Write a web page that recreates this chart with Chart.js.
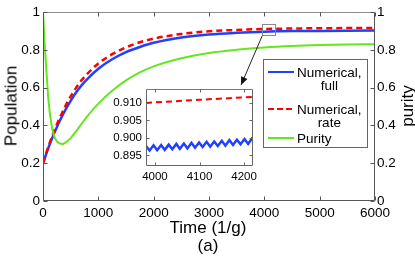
<!DOCTYPE html>
<html><head><meta charset="utf-8">
<script src="https://cdn.jsdelivr.net/npm/chart.js@4.4.1/dist/chart.umd.min.js"></script>
<style>
html,body{margin:0;padding:0;background:#fff;}
#wrap{position:relative;width:415px;height:258px;overflow:hidden;font-family:"Liberation Sans",Arial,sans-serif;color:#000;}
canvas{position:absolute;}
#main{left:0;top:0;}
#inset{left:100px;top:78px;}
.t{position:absolute;white-space:nowrap;line-height:1;font-size:17px;}
.rot{transform:translate(-50%,-50%) rotate(-90deg);}
.ctr{transform:translate(-50%,-50%);}
#legend{position:absolute;left:263px;top:59px;width:103px;height:87px;border:1px solid #666;background:#fff;}
.sw{position:absolute;height:2px;width:26px;left:268px;}
.ent{position:absolute;left:297px;font-size:13.5px;line-height:13px;text-align:center;white-space:nowrap;}
</style></head><body>
<div id="wrap">
<canvas id="main" width="415" height="258"></canvas>
<div id="legend"></div>
<div class="sw" style="top:71px;background:#2040ff"></div>
<div class="ent" style="top:65.5px">Numerical,<br>full</div>
<div class="sw" style="top:108px;background:repeating-linear-gradient(to right,#ff0000 0 6px,transparent 6px 9px)"></div>
<div class="ent" style="top:102.5px">Numerical,<br>rate</div>
<div class="sw" style="top:137px;background:#66e61e"></div>
<div class="ent" style="top:131.5px;text-align:left">Purity</div>
<canvas id="inset" width="162" height="110"></canvas>
<div class="t rot" style="left:11px;top:106px">Population</div>
<div class="t rot" style="left:407px;top:106px">purity</div>
<div class="t ctr" style="left:208px;top:227px">Time (1/g)</div>
<div class="t ctr" style="left:208px;top:245px">(a)</div>
</div>
<script>
// ---- data ----
const timeMain   = [0, 25, 50, 75, 100, 150, 200, 250, 300, 350, 400, 500, 600, 700, 800, 1000, 1250, 1500, 1750, 2000, 2500, 3000, 3500, 4000, 4500, 5000, 5500, 6000];
const fullMain   = [0.200, 0.221, 0.242, 0.263, 0.283, 0.321, 0.357, 0.390, 0.422, 0.452, 0.480, 0.530, 0.575, 0.613, 0.645, 0.700, 0.750, 0.788, 0.815, 0.837, 0.865, 0.881, 0.890, 0.896, 0.899, 0.900, 0.901, 0.902];
const rateMain   = [0.200, 0.223, 0.246, 0.268, 0.290, 0.331, 0.370, 0.405, 0.438, 0.470, 0.500, 0.553, 0.600, 0.640, 0.673, 0.728, 0.777, 0.813, 0.840, 0.859, 0.884, 0.898, 0.905, 0.910, 0.9125, 0.914, 0.915, 0.916];
const purityMain = [1.000, 0.860, 0.740, 0.630, 0.530, 0.410, 0.345, 0.315, 0.305, 0.302, 0.308, 0.333, 0.370, 0.410, 0.448, 0.515, 0.583, 0.638, 0.680, 0.712, 0.755, 0.783, 0.800, 0.812, 0.820, 0.825, 0.828, 0.830];

const timeInsetFull = [3980, 3988, 3997, 4005, 4014, 4022, 4031, 4039, 4048, 4056, 4065, 4073, 4082, 4090, 4099, 4107, 4116, 4124, 4133, 4141, 4150, 4158, 4167, 4175, 4184, 4192, 4201, 4209, 4218, 4220];
const fullInset     = [0.8977, 0.8964, 0.8979, 0.8965, 0.8980, 0.8966, 0.8981, 0.8968, 0.8983, 0.8969, 0.8984, 0.8970, 0.8986, 0.8972, 0.8987, 0.8974, 0.8989, 0.8975, 0.8990, 0.8977, 0.8992, 0.8978, 0.8994, 0.8980, 0.8995, 0.8982, 0.8997, 0.8983, 0.8999, 0.8998];
const timeInsetRate = [3980, 4100, 4220];
const rateInset     = [0.9100, 0.9109, 0.9117];

const xTicksMain  = [0, 1000, 2000, 3000, 4000, 5000, 6000];
const yTicksMain  = [0, 0.2, 0.4, 0.6, 0.8, 1];
const yTicksRight = [0, 0.2, 0.4, 0.6, 0.8, 1];
const xTicksInset = [4000, 4100, 4200];
const yTicksInset = [0.895, 0.900, 0.905, 0.910];

// zoom box and arrow annotation (data coordinates of the main axes)
const zoomBoxX = [3963, 4205];
const zoomBoxY = [0.875, 0.935];
const arrowEnd = [3580, 0.614];

const BLUE = '#2040ff', RED = '#ff0000', GREEN = '#66e61e';
const FONT = '"Liberation Sans", Arial, sans-serif';

const pts = (xs, ys) => xs.map((x, i) => ({x, y: ys[i]}));
const setTicks = arr => (scale) => { scale.ticks = arr.map(v => ({value: v})); };

function framePlugin(id, colors, len, withRight) {
  return {
    id,
    afterDraw(chart) {
      const {ctx, chartArea: a} = chart;
      const L = Math.round(a.left) + 0.5, R = Math.round(a.right) - 0.5;
      const T = Math.round(a.top) + 0.5, B = Math.round(a.bottom) - 0.5;
      ctx.save();
      ctx.lineWidth = 1;
      ctx.strokeStyle = colors.axis;
      ctx.beginPath();
      ctx.moveTo(L, T); ctx.lineTo(L, B); ctx.lineTo(R, B); ctx.lineTo(R, T);
      ctx.stroke();
      ctx.strokeStyle = colors.top;
      ctx.beginPath(); ctx.moveTo(L, T); ctx.lineTo(R, T); ctx.stroke();
      ctx.strokeStyle = colors.axis;
      const xs = chart.scales.x, ys = chart.scales.y;
      ctx.beginPath();
      xs.ticks.forEach(t => {
        const p = Math.round(xs.getPixelForValue(t.value)) + 0.5;
        ctx.moveTo(p, B); ctx.lineTo(p, B - len);
        ctx.moveTo(p, T); ctx.lineTo(p, T + len);
      });
      ys.ticks.forEach(t => {
        const p = Math.round(ys.getPixelForValue(t.value)) + 0.5;
        ctx.moveTo(L, p); ctx.lineTo(L + len, p);
        if (!withRight) { ctx.moveTo(R, p); ctx.lineTo(R - len, p); }
      });
      if (withRight) {
        const y2 = chart.scales.y2;
        y2.ticks.forEach(t => {
          const p = Math.round(y2.getPixelForValue(t.value)) + 0.5;
          ctx.moveTo(R, p); ctx.lineTo(R - len, p);
        });
      }
      ctx.stroke();
      ctx.restore();
    }
  };
}

const annotPlugin = {
  id: 'annot',
  afterDatasetsDraw(chart) {
    const {ctx} = chart;
    const xs = chart.scales.x, ys = chart.scales.y;
    const x0 = xs.getPixelForValue(zoomBoxX[0]), x1 = xs.getPixelForValue(zoomBoxX[1]);
    const y0 = ys.getPixelForValue(zoomBoxY[1]), y1 = ys.getPixelForValue(zoomBoxY[0]);
    ctx.save();
    ctx.strokeStyle = '#8a8a8a';
    ctx.lineWidth = 1;
    ctx.strokeRect(Math.round(x0) + 0.5, Math.round(y0) + 0.5, Math.round(x1 - x0), Math.round(y1 - y0));
    const ax = xs.getPixelForValue(arrowEnd[0]), ay = ys.getPixelForValue(arrowEnd[1]);
    const sx = x0, sy = y1;
    ctx.strokeStyle = '#222';
    ctx.beginPath(); ctx.moveTo(sx, sy); ctx.lineTo(ax, ay); ctx.stroke();
    const ang = Math.atan2(ay - sy, ax - sx);
    const hl = 8, hw = 3.5;
    ctx.fillStyle = '#111';
    ctx.beginPath();
    ctx.moveTo(ax, ay);
    ctx.lineTo(ax - hl * Math.cos(ang) + hw * Math.sin(ang), ay - hl * Math.sin(ang) - hw * Math.cos(ang));
    ctx.lineTo(ax - hl * Math.cos(ang) - hw * Math.sin(ang), ay - hl * Math.sin(ang) + hw * Math.cos(ang));
    ctx.closePath(); ctx.fill();
    ctx.restore();
  }
};

const whiteBg = {
  id: 'whiteBg',
  beforeDraw(chart) {
    const {ctx, chartArea: a} = chart;
    ctx.save(); ctx.fillStyle = '#fff';
    ctx.fillRect(a.left, a.top, a.right - a.left, a.bottom - a.top);
    ctx.restore();
  }
};

Chart.defaults.font.family = FONT;
Chart.defaults.color = '#000';

const noGrid = {display: false, drawTicks: false};

new Chart(document.getElementById('main'), {
  type: 'line',
  data: {
    datasets: [
      {label: 'Purity', data: pts(timeMain, purityMain), yAxisID: 'y2', borderColor: GREEN, borderWidth: 2, pointRadius: 0, cubicInterpolationMode: 'monotone', order: 0},
      {label: 'Numerical, rate', data: pts(timeMain, rateMain), yAxisID: 'y', borderColor: RED, borderWidth: 2.5, borderDash: [6, 4], pointRadius: 0, cubicInterpolationMode: 'monotone', order: 1},
      {label: 'Numerical, full', data: pts(timeMain, fullMain), yAxisID: 'y', borderColor: BLUE, borderWidth: 2.5, pointRadius: 0, cubicInterpolationMode: 'monotone', order: 2}
    ]
  },
  options: {
    responsive: false, animation: false, devicePixelRatio: 1,
    layout: {padding: {top: 12, left: 0, right: 0, bottom: 0}},
    plugins: {legend: {display: false}, tooltip: {enabled: false}},
    scales: {
      x: {type: 'linear', min: 0, max: 6000, grid: noGrid, border: {display: false},
          afterBuildTicks: setTicks(xTicksMain), afterFit: s => { s.height = 57; },
          ticks: {font: {size: 13.5}, color: '#000', padding: 4, maxRotation: 0, callback: v => String(v)}},
      y: {type: 'linear', position: 'left', min: 0, max: 1, grid: noGrid, border: {display: false},
          afterBuildTicks: setTicks(yTicksMain), afterFit: s => { s.width = 43; },
          ticks: {font: {size: 13.5}, color: '#000', padding: 3, callback: v => String(v)}},
      y2: {type: 'linear', position: 'right', min: 0, max: 1, grid: noGrid, border: {display: false},
          afterBuildTicks: setTicks(yTicksRight), afterFit: s => { s.width = 40; },
          ticks: {font: {size: 13.5}, color: '#000', padding: 2, callback: v => String(v)}}
    }
  },
  plugins: [annotPlugin, framePlugin('frameMain', {axis: '#555', top: '#8c8c8c'}, 4, true)]
});

new Chart(document.getElementById('inset'), {
  type: 'line',
  data: {
    datasets: [
      {label: 'Numerical, rate', data: pts(timeInsetRate, rateInset), borderColor: RED, borderWidth: 2, borderDash: [6, 4], pointRadius: 0, tension: 0},
      {label: 'Numerical, full', data: pts(timeInsetFull, fullInset), borderColor: BLUE, borderWidth: 2.5, pointRadius: 0, tension: 0}
    ]
  },
  options: {
    responsive: false, animation: false, devicePixelRatio: 1,
    layout: {padding: {top: 8, right: 9, left: 0, bottom: 0}},
    plugins: {legend: {display: false}, tooltip: {enabled: false}},
    scales: {
      x: {type: 'linear', min: 3980, max: 4220, grid: noGrid, border: {display: false},
          afterBuildTicks: setTicks(xTicksInset), afterFit: s => { s.height = 22; },
          ticks: {font: {size: 11.5}, color: '#000', padding: 4, maxRotation: 0, callback: v => String(v)}},
      y: {type: 'linear', min: 0.892, max: 0.914, grid: noGrid, border: {display: false},
          afterBuildTicks: setTicks(yTicksInset), afterFit: s => { s.width = 46; },
          ticks: {font: {size: 11.5}, color: '#000', padding: 4, callback: v => Number(v).toFixed(3)}}
    }
  },
  plugins: [whiteBg, framePlugin('frameInset', {axis: '#666', top: '#777'}, 3, false)]
});
</script>
</body></html>
